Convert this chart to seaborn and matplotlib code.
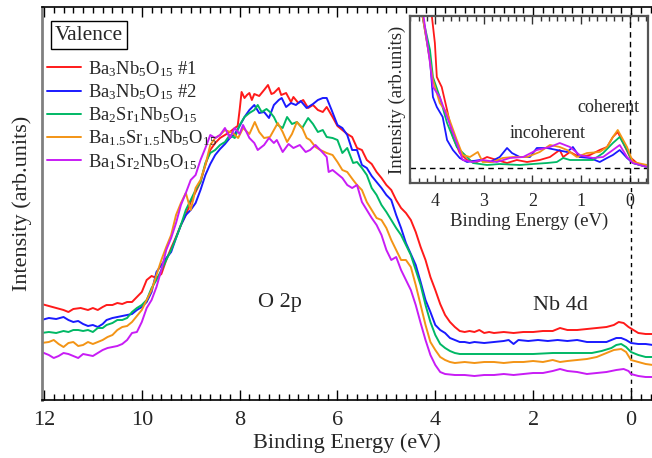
import numpy as np
import pandas as pd
import matplotlib
matplotlib.use('Agg')
import matplotlib.pyplot as plt
from matplotlib.ticker import MultipleLocator, AutoMinorLocator, NullLocator
import seaborn as sns

sns.set_style('ticks')
plt.rcParams['font.family'] = ['Liberation Serif', 'DejaVu Serif']
plt.rcParams['mathtext.default'] = 'regular'

samples = [r'Ba$_3$Nb$_5$O$_{15}$ #1', r'Ba$_3$Nb$_5$O$_{15}$ #2', r'Ba$_2$Sr$_1$Nb$_5$O$_{15}$',
           r'Ba$_{1.5}$Sr$_{1.5}$Nb$_5$O$_{15}$', r'Ba$_1$Sr$_2$Nb$_5$O$_{15}$']
colors = ['#ff1a1a', '#1a1aff', '#00b865', '#f39415', '#c81cf5']

# ---------------- main panel (binding energy, intensity arb.) ----------------
red_E = [12.05, 11.9, 11.75, 11.6, 11.5, 11.4, 11.25, 11.1, 11.0, 10.9, 10.8, 10.72, 10.6, 10.5, 10.4, 10.3, 10.2,
         10.1, 10.0, 9.9, 9.8, 9.7, 9.6, 9.5, 9.4, 9.3, 9.2, 9.1, 9.0, 8.9, 8.8, 8.7, 8.6, 8.5, 8.4, 8.3, 8.2, 8.1,
         8.04, 8.0, 7.96, 7.9, 7.85, 7.8, 7.75, 7.7, 7.6, 7.5, 7.42, 7.35, 7.3, 7.2, 7.15, 7.05, 6.95, 6.9, 6.8, 6.7,
         6.6, 6.5, 6.4, 6.3, 6.22, 6.1, 6.0, 5.9, 5.8, 5.7, 5.6, 5.5, 5.4, 5.3, 5.2, 5.1, 5.0, 4.9, 4.8, 4.7, 4.6,
         4.5, 4.4, 4.3, 4.2, 4.1, 4.0, 3.9, 3.8, 3.7, 3.6, 3.5, 3.4, 3.3, 3.2, 3.1, 3.0, 2.9, 2.8, 2.6, 2.4, 2.2,
         2.0, 1.8, 1.6, 1.45, 1.3, 1.1, 0.9, 0.7, 0.5, 0.35, 0.25, 0.15, 0.05, -0.05, -0.15, -0.3, -0.45]
red_I = [96, 94, 92, 90, 88, 91, 92, 90, 92, 90, 93, 95, 95, 97, 96, 98, 98,
         103, 108, 120, 124, 122, 126, 140, 152, 163, 175, 185, 198, 208, 218, 235, 250, 257, 262, 265, 268, 272,
         274, 290, 308, 302, 305, 307, 300, 306, 304, 310, 315, 306, 307, 312, 305, 307, 298, 303, 297, 300,
         292, 295, 290, 288, 293, 283, 274, 270, 266, 263, 252, 250, 240, 236, 228, 222, 215, 210, 200, 192, 187,
         180, 168, 153, 140, 123, 110, 96, 85, 78, 73, 69, 68, 69, 68, 70, 67, 68, 67, 68, 67, 68,
         68, 69, 69, 72, 70, 70, 71, 72, 73, 75, 78, 77, 73, 70, 67, 66, 66]

blue_E = [12.05, 11.9, 11.75, 11.6, 11.5, 11.4, 11.3, 11.2, 11.1, 11.0, 10.9, 10.8, 10.72, 10.6, 10.5, 10.4, 10.3,
          10.2, 10.1, 10.0, 9.9, 9.8, 9.7, 9.6, 9.5, 9.4, 9.3, 9.2, 9.1, 9.0, 8.9, 8.8, 8.7, 8.6, 8.5, 8.4, 8.3,
          8.2, 8.1, 8.0, 7.9, 7.8, 7.7, 7.6, 7.5, 7.4, 7.3, 7.2, 7.14, 7.05, 6.95, 6.85, 6.75, 6.63, 6.5, 6.4,
          6.3, 6.22, 6.12, 6.0, 5.9, 5.8, 5.7, 5.6, 5.5, 5.4, 5.3, 5.2, 5.1, 5.0, 4.9, 4.8, 4.7, 4.6, 4.5, 4.4,
          4.3, 4.2, 4.1, 4.0, 3.9, 3.8, 3.7, 3.6, 3.5, 3.4, 3.3, 3.2, 3.0, 2.8, 2.6, 2.5, 2.4, 2.3, 2.1, 1.9,
          1.7, 1.5, 1.3, 1.1, 0.9, 0.7, 0.5, 0.3, 0.2, 0.1, 0.0, -0.15, -0.3, -0.45]
blue_I = [80, 82, 81, 83, 80, 78, 79, 76, 74, 75, 73, 76, 80, 82, 83, 84, 85,
          86, 90, 93, 98, 108, 128, 135, 142, 148, 162, 175, 185, 190, 197, 210, 225, 236, 245, 251, 256,
          262, 266, 274, 283, 290, 295, 287, 288, 282, 295, 300, 302, 293, 297, 295, 299, 292, 296, 300,
          302, 302, 290, 275, 272, 265, 250, 250, 235, 232, 224, 218, 212, 205, 200, 185, 172, 157, 146, 135,
          118, 100, 88, 75, 70, 67, 62, 60, 58, 58, 57, 58, 57, 58, 59, 60, 56, 60, 59, 60,
          59, 60, 59, 60, 58, 58, 58, 62, 62, 60, 57, 56, 56, 55]

green_E = [12.05, 11.9, 11.75, 11.6, 11.5, 11.4, 11.3, 11.2, 11.1, 11.0, 10.9, 10.8, 10.72, 10.6, 10.5, 10.4, 10.3,
           10.2, 10.1, 10.0, 9.9, 9.8, 9.7, 9.6, 9.5, 9.4, 9.3, 9.2, 9.1, 9.0, 8.9, 8.8, 8.7, 8.6, 8.5, 8.4, 8.3,
           8.2, 8.1, 8.0, 7.9, 7.8, 7.7, 7.63, 7.55, 7.45, 7.38, 7.3, 7.22, 7.12, 7.03, 6.93, 6.83, 6.72, 6.6,
           6.5, 6.4, 6.3, 6.22, 6.1, 6.0, 5.9, 5.8, 5.68, 5.6, 5.5, 5.4, 5.3, 5.2, 5.1, 5.0, 4.9, 4.8, 4.7, 4.6,
           4.5, 4.4, 4.3, 4.2, 4.1, 4.0, 3.9, 3.8, 3.7, 3.6, 3.5, 3.4, 3.2, 3.0, 2.8, 2.4, 2.0, 1.6, 1.2, 0.8,
           0.6, 0.4, 0.3, 0.2, 0.1, 0.0, -0.15, -0.3, -0.45]
green_I = [67, 68, 67, 69, 68, 70, 70, 69, 70, 68, 72, 72, 75, 77, 80, 80, 82,
           88, 92, 95, 100, 112, 120, 130, 140, 150, 162, 175, 190, 200, 210, 218, 237, 247, 250, 255, 258,
           265, 262, 275, 283, 287, 290, 295, 288, 291, 288, 283, 275, 272, 283, 276, 278, 272, 282,
           276, 268, 270, 263, 262, 260, 247, 252, 237, 238, 232, 225, 212, 205, 195, 188, 180, 172, 165, 155,
           145, 130, 115, 95, 78, 65, 56, 52, 49, 47, 46, 46, 46, 46, 46, 46, 46, 47, 47, 47,
           49, 52, 55, 56, 53, 48, 45, 43, 43]

orange_E = [12.05, 11.9, 11.8, 11.7, 11.6, 11.5, 11.4, 11.3, 11.2, 11.1, 11.0, 10.9, 10.8, 10.7, 10.6, 10.5, 10.4,
            10.3, 10.2, 10.1, 10.0, 9.9, 9.8, 9.7, 9.6, 9.5, 9.4, 9.3, 9.2, 9.1, 9.0, 8.95, 8.9, 8.8, 8.7, 8.6,
            8.5, 8.4, 8.3, 8.14, 8.03, 7.93, 7.8, 7.69, 7.6, 7.5, 7.38, 7.3, 7.22, 7.12, 7.03, 6.93, 6.83, 6.72,
            6.63, 6.56, 6.45, 6.35, 6.22, 6.1, 6.0, 5.9, 5.8, 5.68, 5.6, 5.5, 5.4, 5.3, 5.2, 5.1, 5.0, 4.9, 4.8,
            4.7, 4.6, 4.5, 4.4, 4.3, 4.2, 4.1, 4.0, 3.9, 3.8, 3.7, 3.6, 3.4, 3.2, 3.0, 2.8, 2.6, 2.4, 2.2, 2.0,
            1.8, 1.6, 1.45, 1.3, 1.1, 0.9, 0.7, 0.5, 0.35, 0.2, 0.1, 0.0, -0.15, -0.3, -0.45]
orange_I = [57, 58, 60, 56, 53, 57, 58, 54, 55, 58, 56, 58, 60, 63, 65, 70, 73,
            74, 78, 84, 90, 100, 110, 125, 140, 153, 165, 185, 197, 207, 190, 200, 212, 220, 235, 255,
            262, 265, 270, 267, 262, 272, 266, 278, 268, 262, 263, 270, 277, 268, 258, 266, 278, 272,
            262, 260, 253, 250, 247, 245, 238, 230, 228, 220, 215, 210, 198, 190, 182, 180, 172, 160, 150,
            140, 140, 133, 115, 95, 75, 58, 50, 43, 40, 38, 37, 38, 37, 38, 38, 37, 38, 38, 39,
            38, 40, 38, 39, 40, 41, 43, 47, 50, 51, 48, 40, 38, 36, 35]

purple_E = [12.05, 11.9, 11.8, 11.7, 11.6, 11.5, 11.4, 11.3, 11.2, 11.1, 11.0, 10.9, 10.8, 10.7, 10.6, 10.5, 10.4,
            10.3, 10.2, 10.1, 10.0, 9.9, 9.8, 9.7, 9.6, 9.5, 9.4, 9.3, 9.2, 9.1, 9.0, 8.9, 8.8, 8.7, 8.6, 8.5,
            8.4, 8.3, 8.2, 8.1, 8.0, 7.93, 7.8, 7.7, 7.63, 7.5, 7.4, 7.3, 7.24, 7.12, 7.0, 6.9, 6.77, 6.65,
            6.56, 6.45, 6.35, 6.22, 6.18, 6.1, 6.0, 5.9, 5.8, 5.7, 5.6, 5.5, 5.4, 5.3, 5.2, 5.1, 5.0, 4.9, 4.8,
            4.7, 4.6, 4.5, 4.4, 4.3, 4.2, 4.1, 4.0, 3.9, 3.8, 3.6, 3.4, 3.2, 3.0, 2.8, 2.6, 2.4, 2.2, 2.0, 1.8,
            1.6, 1.45, 1.3, 1.1, 0.9, 0.7, 0.5, 0.3, 0.15, 0.05, 0.0, -0.15, -0.3, -0.45]
purple_I = [48, 45, 42, 44, 47, 46, 44, 42, 46, 45, 44, 47, 50, 52, 53, 54, 56,
            60, 67, 68, 78, 92, 100, 113, 130, 150, 162, 177, 195, 207, 220, 225, 240, 252, 265, 262,
            265, 272, 262, 272, 266, 275, 262, 257, 250, 255, 262, 257, 260, 248, 256, 252, 255, 248,
            250, 255, 250, 243, 228, 230, 226, 222, 215, 212, 215, 198, 190, 182, 175, 165, 150, 140, 143,
            130, 120, 110, 95, 77, 60, 45, 35, 28, 26, 25, 25, 24, 25, 25, 26, 25, 26, 27, 27,
            29, 31, 29, 28, 26, 27, 28, 30, 31, 29, 26, 24, 23, 23]

# ---------------- inset (near Fermi level, background subtracted) ----------------
red_iE = [4.2, 4.06, 4.0, 3.96, 3.86, 3.75, 3.63, 3.49, 3.34, 3.14, 2.93, 2.73, 2.52, 2.32, 2.11, 1.85, 1.64,
          1.44, 1.37, 1.23, 1.03, 0.82, 0.62, 0.47, 0.35, 0.25, 0.14, 0.0, -0.14, -0.35]
red_iI = [230, 151, 125, 91, 81, 58, 31, 15, 8, 6, 11, 8, 5, 8, 6, 8, 11,
          18, 11, 16, 11, 13, 18, 21, 31, 36, 25, 11, 5, 1]
blue_iE = [4.35, 4.25, 4.10, 4.04, 3.96, 3.84, 3.75, 3.63, 3.49, 3.34, 3.08, 2.87, 2.67, 2.52, 2.42, 2.26, 2.05,
           1.91, 1.70, 1.50, 1.29, 1.17, 1.03, 0.82, 0.62, 0.47, 0.35, 0.21, 0.06, -0.06, -0.35]
blue_iI = [220, 151, 108, 71, 61, 51, 28, 18, 10, 6, 8, 6, 11, 20, 15, 11, 11,
           20, 20, 18, 16, 21, 11, 10, 6, 10, 13, 18, 10, 5, 1]
green_iE = [4.35, 4.25, 4.10, 4.04, 3.90, 3.75, 3.55, 3.34, 3.22, 2.93, 2.67, 2.26, 1.99, 1.70, 1.50, 1.37, 1.23,
            1.03, 0.76, 0.55, 0.35, 0.21, 0.06, -0.06, -0.35]
green_iI = [220, 151, 118, 91, 71, 45, 21, 11, 5, 3, 4, 3, 4, 5, 6, 10, 8,
            8, 8, 15, 25, 31, 18, 5, 1]
orange_iE = [4.35, 4.25, 4.16, 4.04, 3.90, 3.75, 3.55, 3.43, 3.28, 3.12, 3.02, 2.81, 2.61, 2.40, 2.11, 1.85, 1.64,
             1.44, 1.29, 1.09, 0.88, 0.62, 0.47, 0.35, 0.25, 0.06, -0.06, -0.35]
orange_iI = [220, 151, 125, 88, 65, 55, 28, 13, 11, 16, 6, 6, 10, 11, 11, 16, 23,
             21, 18, 11, 15, 16, 21, 31, 38, 21, 6, 3]
purple_iE = [4.35, 4.23, 4.10, 4.04, 3.90, 3.75, 3.55, 3.43, 3.22, 3.02, 2.73, 2.46, 2.19, 1.91, 1.64, 1.44, 1.23,
             1.03, 0.76, 0.55, 0.35, 0.21, 0.06, -0.06, -0.35]
purple_iI = [220, 151, 105, 81, 71, 51, 25, 8, 6, 8, 6, 10, 11, 18, 21, 25, 21,
             13, 10, 11, 18, 23, 11, 5, 1]

main_sets = [(red_E, red_I), (blue_E, blue_I), (green_E, green_I), (orange_E, orange_I), (purple_E, purple_I)]
inset_sets = [(red_iE, red_iI), (blue_iE, blue_iI), (green_iE, green_iI), (orange_iE, orange_iI),
              (purple_iE, purple_iI)]

main_df = pd.concat([pd.DataFrame({'E': e, 'I': i, 'sample': s}) for (e, i), s in zip(main_sets, samples)])
inset_df = pd.concat([pd.DataFrame({'E': e, 'I': i, 'sample': s}) for (e, i), s in zip(inset_sets, samples)])
palette = dict(zip(samples, colors))

W, H = 652, 458
fig = plt.figure(figsize=(W / 100, H / 100), dpi=100)
ax = fig.add_axes([42 / W, 1 - 400 / H, (652 - 42) / W, (400 - 7) / H])

sns.lineplot(data=main_df, x='E', y='I', hue='sample', palette=palette, hue_order=samples,
             estimator=None, sort=False, lw=1.4, legend=False, ax=ax)
ax.axvline(0, color='black', lw=1, ls=(0, (3, 3)), zorder=1)
ax.set_xlim(12.04, -0.43)
ax.set_ylim(0, 393)
ax.set_xlabel('Binding Energy (eV)', fontsize=16, labelpad=2)
ax.set_ylabel('Intensity (arb.units)', fontsize=16, labelpad=7)
ax.xaxis.set_major_locator(MultipleLocator(2))
ax.xaxis.set_minor_locator(MultipleLocator(0.2))
ax.yaxis.set_major_locator(NullLocator())
ax.yaxis.set_minor_locator(NullLocator())
ax.tick_params(axis='x', which='both', direction='in', top=True, bottom=True, labelsize=16, pad=8, color='black')
ax.tick_params(axis='x', which='major', length=7, width=1)
ax.tick_params(axis='x', which='minor', length=4, width=1)
ax.spines['right'].set_visible(False)
ax.spines['left'].set_color('#808080')
ax.spines['left'].set_linewidth(2)
ax.spines['bottom'].set_color('black')
ax.spines['top'].set_color('black')
ax.spines['bottom'].set_linewidth(1.2)
ax.spines['top'].set_linewidth(1.2)

ax.text(7.18, 97, 'O 2p', fontsize=16, ha='center', va='center')
ax.text(1.45, 95, 'Nb 4d', fontsize=16, ha='center', va='center')

handles = ax.get_lines()[:5]
leg = ax.legend(handles, samples, loc='upper left', bbox_to_anchor=(47 / W, 1 - 59 / H),
                bbox_transform=fig.transFigure, frameon=False, fontsize=13.4, handlelength=1.85,
                handletextpad=0.35, labelspacing=0.19, borderpad=0, borderaxespad=0)
fig.text(89 / W, 1 - 35 / H, 'Valence', fontsize=15.5, ha='center', va='center',
         bbox=dict(boxstyle='square,pad=0.2', fc='white', ec='black', lw=1))

# inset
ax2 = fig.add_axes([410 / W, 1 - 183 / H, (648 - 410) / W, (183 - 16) / H])
sns.lineplot(data=inset_df, x='E', y='I', hue='sample', palette=palette, hue_order=samples,
             estimator=None, sort=False, lw=1.3, legend=False, ax=ax2)
ax2.axhline(0, color='black', lw=1, ls=(0, (4, 3)), zorder=1)
ax2.axvline(0, color='black', lw=1, ls=(0, (4, 3)), zorder=1)
ax2.set_xlim(4.51, -0.37)
ax2.set_ylim(-15, 152)
ax2.set_xlabel('Binding Energy (eV)', fontsize=13.5, labelpad=2)
ax2.set_ylabel('Intensity (arb.units)', fontsize=13.5, labelpad=3)
ax2.xaxis.set_major_locator(MultipleLocator(1))
ax2.xaxis.set_minor_locator(AutoMinorLocator(6))
ax2.yaxis.set_major_locator(NullLocator())
ax2.yaxis.set_minor_locator(NullLocator())
ax2.tick_params(axis='x', which='both', direction='in', top=True, bottom=True, labelsize=13, pad=7, color='#333333')
ax2.tick_params(axis='x', which='major', length=6, width=1)
ax2.tick_params(axis='x', which='minor', length=3.5, width=1)
for sp in ax2.spines.values():
    sp.set_color('#555555')
    sp.set_linewidth(1.6)
ax2.text(0.45, 61, 'coherent', fontsize=13, ha='center', va='center')
ax2.text(1.68, 35, 'incoherent', fontsize=13, ha='center', va='center')

fig.savefig('out.png', dpi=100)
